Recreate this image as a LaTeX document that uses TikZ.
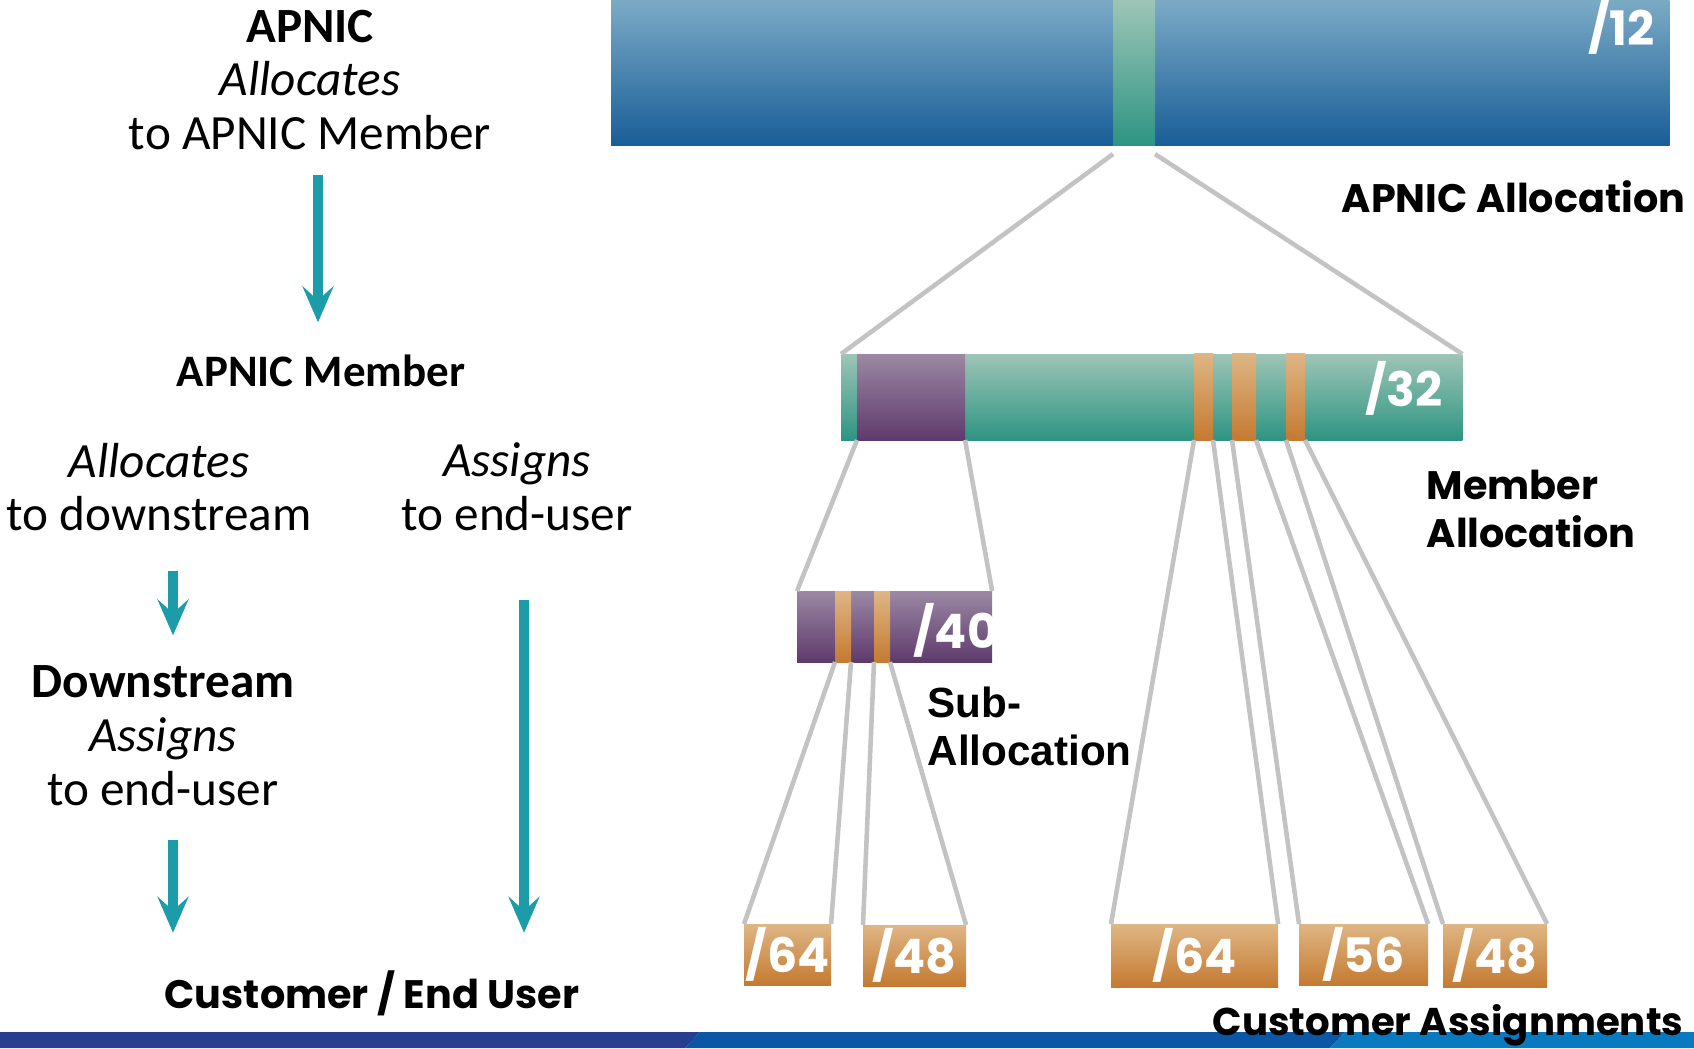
\documentclass[tikz,border=0pt]{standalone}
\usepackage{fontspec}
\setmainfont{Carlito}
\newfontfamily\gothic{Poppins}
\newfontfamily\arialb{Liberation Sans}
\usetikzlibrary{arrows.meta,calc}
\definecolor{poolT}{HTML}{7BAAC5}
\definecolor{poolB}{HTML}{1A5E98}
\definecolor{membT}{HTML}{9DC5B6}
\definecolor{membB}{HTML}{2E9482}
\definecolor{subT}{HTML}{9C88A4}
\definecolor{subB}{HTML}{5E3A6C}
\definecolor{custT}{HTML}{DFB685}
\definecolor{custB}{HTML}{C47A31}
\definecolor{zoomgray}{HTML}{C3C3C3}
\definecolor{flowteal}{HTML}{1B9CA8}
\definecolor{bandnavy}{HTML}{273F8E}
\definecolor{bandmid}{HTML}{0B56A5}
\definecolor{bandlight}{HTML}{0A7AC0}
\tikzset{>=stealth}
\tikzset{
  blockbar/.style={rectangle, inner sep=0pt, outer sep=0pt, anchor=north west},
  poolbar/.style={blockbar, top color=poolT, bottom color=poolB},
  membbar/.style={blockbar, top color=membT, bottom color=membB},
  subbar/.style={blockbar, top color=subT, bottom color=subB},
  custbar/.style={blockbar, top color=custT, bottom color=custB},
  slashlbl/.style={text=white, font=\gothic\bfseries\fontsize{13.5}{13.5}\selectfont},
  zoomline/.style={draw=zoomgray, line width=1.3pt},
  flow/.style={draw=flowteal, line width=2.8pt, -{Stealth[length=3.6mm,width=3.1mm,inset=1.4mm]}},
  txt/.style={inner sep=0pt, align=center, font=\fontsize{14}{15.3}\selectfont},
  headtxt/.style={inner sep=0pt, font=\gothic\bfseries\fontsize{11.3}{13.7}\selectfont}
}

\begin{document}
\begin{tikzpicture}[x=0.01cm,y=-0.01cm]
\useasboundingbox (0,0) rectangle (1694,1048);

% bottom band
\fill[bandnavy] (0,1032) -- (700,1032) -- (685,1048) -- (0,1048) -- cycle;
\fill[bandmid] (700,1032) -- (1345,1032) -- (1330,1048) -- (685,1048) -- cycle;
\fill[bandlight] (1345,1032) -- (1694,1032) -- (1694,1048) -- (1330,1048) -- cycle;

% APNIC /12
\node[poolbar, minimum width=10.58cm, minimum height=1.45cm] (p12) at (611,0) {};
\node[membbar, minimum width=0.42cm, minimum height=1.45cm] (m) at (1113,0) {};
\node[slashlbl, anchor=base east] (l12) at (1667,45) {/12};
\node[headtxt, anchor=base west] (tp) at (1341,212) {APNIC Allocation};

% member /32
\node[membbar, minimum width=6.21cm, minimum height=0.86cm] (m32) at (841,354) {};
\node[subbar, minimum width=1.08cm, minimum height=0.86cm] (s) at (857,354) {};
\node[custbar, minimum width=0.19cm, minimum height=0.87cm] (o1) at (1194,353) {};
\node[custbar, minimum width=0.24cm, minimum height=0.87cm] (o2) at (1232,353) {};
\node[custbar, minimum width=0.19cm, minimum height=0.87cm] (o3) at (1286,353) {};
\node[slashlbl, anchor=base east] (l32) at (1455,406) {/32};
\node[headtxt, anchor=north west, align=left] (tm) at (1426,469) {Member\\Allocation};

\draw[zoomline] ($(m.south west)+(0,9)$) -- (m32.north west);
\draw[zoomline] ($(m.south east)+(0,9)$) -- (m32.north east);

% sub-allocation /40
\node[subbar, minimum width=1.95cm, minimum height=0.71cm] (s40) at (797,591) {};
\node[custbar, minimum width=0.16cm, minimum height=0.71cm] (q1) at (835,591) {};
\node[custbar, minimum width=0.16cm, minimum height=0.71cm] (q2) at (874,591) {};
\begin{scope}
\clip (s40.north west) rectangle (s40.south east);
\node[slashlbl, anchor=base west] (l40) at (901,648) {/40};
\end{scope}
\node[inner sep=0pt, anchor=north west, align=left, font=\arialb\bfseries\fontsize{12}{13.7}\selectfont] (ts) at (927,686) {Sub-\\Allocation};

\draw[zoomline] (s.south west) -- (s40.north west);
\draw[zoomline] (s.south east) -- (s40.north east);

% customer assignments
\node[custbar, slashlbl, minimum width=0.87cm, minimum height=0.61cm] (c1) at (744,924) {/64};
\node[custbar, slashlbl, minimum width=1.03cm, minimum height=0.61cm] (c2) at (863,925) {/48};
\node[custbar, slashlbl, minimum width=1.67cm, minimum height=0.63cm] (c3) at (1111,924) {/64};
\node[custbar, slashlbl, minimum width=1.29cm, minimum height=0.61cm] (c4) at (1299,924) {/56};
\node[custbar, slashlbl, minimum width=1.04cm, minimum height=0.63cm] (c5) at (1443,924) {/48};

\draw[zoomline] (q1.south west) -- (c1.north west);
\draw[zoomline] (q1.south east) -- (c1.north east);
\draw[zoomline] (q2.south west) -- (c2.north west);
\draw[zoomline] (q2.south east) -- (c2.north east);
\draw[zoomline] (o1.south west) -- (c3.north west);
\draw[zoomline] (o1.south east) -- (c3.north east);
\draw[zoomline] (o2.south west) -- (c4.north west);
\draw[zoomline] (o2.south east) -- (c4.north east);
\draw[zoomline] (o3.south west) -- (c5.north west);
\draw[zoomline] (o3.south east) -- (c5.north east);

\node[headtxt, anchor=base west, font=\gothic\bfseries\fontsize{11}{12}\selectfont] (tc) at (1212,1035) {Customer Assignments};

% left: who does what
\node[txt] (t1) at (310,80) {\textbf{APNIC}\\\textit{Allocates}\\to APNIC Member};
\node[txt, font=\bfseries\fontsize{12.8}{14}\selectfont] (t2) at (321,371) {APNIC Member};
\node[txt] (t3) at (159,487) {\textit{Allocates}\\to downstream};
\node[txt] (t4) at (517,487) {\textit{Assigns}\\to end-user};
\node[txt] (t5) at (163,736) {\textbf{Downstream}\\\textit{Assigns}\\to end-user};
\node[headtxt, anchor=west] (t6) at (164,993) {Customer / End User};

\draw[flow] ($(t1.south)+(8,24)$) -- ($(t1.south |- t2.north)+(8,-32)$);
\draw[flow] ($(t3.south)+(14,39)$) -- ($(t3.south |- t5.north)+(14,-30)$);
\draw[flow] ($(t4.south)+(7,68)$) -- ($(t4.south |- t6.north)+(7,-37)$);
\draw[flow] ($(t5.south)+(10,33)$) -- ($(t5.south |- t6.north)+(10,-37)$);
\end{tikzpicture}
\end{document}
